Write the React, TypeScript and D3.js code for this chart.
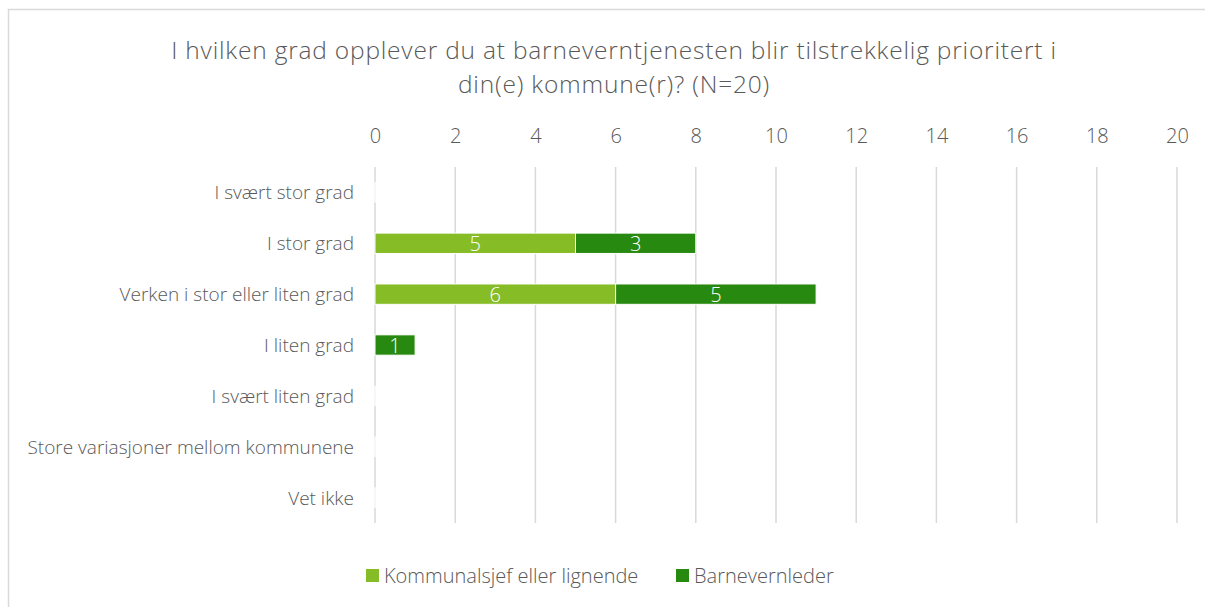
import React, { useEffect, useRef } from 'react';
import { select, scaleLinear, scaleBand, axisTop, axisLeft } from 'd3';

const categories = [
  'I svært stor grad',
  'I stor grad',
  'Verken i stor eller liten grad',
  'I liten grad',
  'I svært liten grad',
  'Store variasjoner mellom kommunene',
  'Vet ikke',
];
const kommunalsjef = [0, 5, 6, 0, 0, 0, 0];
const barnevernleder = [0, 3, 5, 1, 0, 0, 0];
const seriesNames = ['Kommunalsjef eller lignende', 'Barnevernleder'];
const colors = ['#86BC25', '#288910'];
const xTicks = [0, 2, 4, 6, 8, 10, 12, 14, 16, 18, 20];
const titleLines = [
  'I hvilken grad opplever du at barneverntjenesten blir tilstrekkelig prioritert i',
  'din(e) kommune(r)? (N=20)',
];

const FONT = '"Open Sans", sans-serif';
const GREY = '#595959';

function App() {
  const svgRef = useRef<SVGSVGElement>(null);

  useEffect(() => {
    const svg = select(svgRef.current);
    svg.selectAll('*').remove();

    const x = scaleLinear().domain([0, 20]).range([375, 1177]);
    const y = scaleBand<string>()
      .domain(categories)
      .range([167, 523])
      .paddingInner(0.6)
      .paddingOuter(0.3);

    // frame
    svg.append('rect')
      .attr('x', 8.5).attr('y', 9.5)
      .attr('width', 1220).attr('height', 620)
      .attr('fill', '#fff')
      .attr('stroke', '#d9d9d9').attr('stroke-width', 1.5);

    // title
    svg.append('g')
      .selectAll('text')
      .data(titleLines)
      .join('text')
      .attr('x', 614)
      .attr('y', (d, i) => 59 + i * 34)
      .attr('text-anchor', 'middle')
      .attr('font-family', FONT)
      .attr('font-weight', 300)
      .attr('font-size', 24.5)
      .attr('letter-spacing', 0.8)
      .attr('fill', GREY)
      .text(d => d);

    // gridlines
    svg.append('g')
      .selectAll('line')
      .data(xTicks)
      .join('line')
      .attr('x1', d => x(d)).attr('x2', d => x(d))
      .attr('y1', 167).attr('y2', 523)
      .attr('stroke', '#d9d9d9').attr('stroke-width', 1.5);

    // x axis on top
    const xAxis = axisTop(x).tickValues(xTicks).tickSize(0).tickPadding(0);
    const gx = svg.append('g').attr('transform', 'translate(0,143)').call(xAxis);
    gx.select('.domain').remove();
    gx.selectAll('text')
      .attr('font-family', FONT)
      .attr('font-weight', 300)
      .attr('font-size', 20)
      .attr('fill', GREY)
      .attr('dy', 0);

    // category axis
    const yAxis = axisLeft(y).tickSize(0).tickPadding(0);
    const gy = svg.append('g').attr('transform', 'translate(354,0)').call(yAxis);
    gy.select('.domain').remove();
    gy.selectAll('text')
      .attr('font-family', FONT)
      .attr('font-weight', 300)
      .attr('font-size', 19)
      .attr('fill', GREY)
      .attr('dy', 7);

    // stacked bars
    const stacked = categories.map((c, i) => {
      const a = kommunalsjef[i];
      const b = barnevernleder[i];
      return [
        { c, s: 0, x0: 0, x1: a, v: a },
        { c, s: 1, x0: a, x1: a + b, v: b },
      ];
    });
    const segs = stacked.flat();

    // empty bars leave a white outline on the zero line
    svg.append('g')
      .selectAll('line')
      .data(segs.filter(d => d.v === 0 && d.x0 === 0))
      .join('line')
      .attr('x1', d => x(d.x0)).attr('x2', d => x(d.x0))
      .attr('y1', d => y(d.c)!).attr('y2', d => y(d.c)! + y.bandwidth())
      .attr('stroke', '#fff').attr('stroke-width', 1);

    svg.append('g')
      .selectAll('rect')
      .data(segs.filter(d => d.v > 0))
      .join('rect')
      .attr('x', d => x(d.x0))
      .attr('y', d => y(d.c)!)
      .attr('width', d => x(d.x1) - x(d.x0))
      .attr('height', y.bandwidth())
      .attr('fill', d => colors[d.s])
      .attr('stroke', '#fff')
      .attr('stroke-width', 1);

    svg.append('g')
      .selectAll('text')
      .data(segs.filter(d => d.v > 0))
      .join('text')
      .attr('x', d => (x(d.x0) + x(d.x1)) / 2)
      .attr('y', d => y(d.c)! + y.bandwidth() / 2 + 7.5)
      .attr('text-anchor', 'middle')
      .attr('font-family', FONT)
      .attr('font-weight', 300)
      .attr('font-size', 20)
      .attr('fill', '#fff')
      .text(d => d.v);

    // legend
    const legendX = [366, 676];
    const lg = svg.append('g');
    seriesNames.forEach((name, i) => {
      lg.append('rect')
        .attr('x', legendX[i]).attr('y', 569)
        .attr('width', 13).attr('height', 13)
        .attr('fill', colors[i]);
      lg.append('text')
        .attr('x', legendX[i] + 18).attr('y', 583)
        .attr('font-family', FONT)
        .attr('font-weight', 300)
        .attr('font-size', 20)
        .attr('fill', GREY)
        .text(name);
    });
  }, []);

  return (
    <svg
      ref={svgRef}
      width={1205}
      height={607}
      style={{ position: 'absolute', left: 0, top: 0, display: 'block' }}
    />
  );
}

export default App;
